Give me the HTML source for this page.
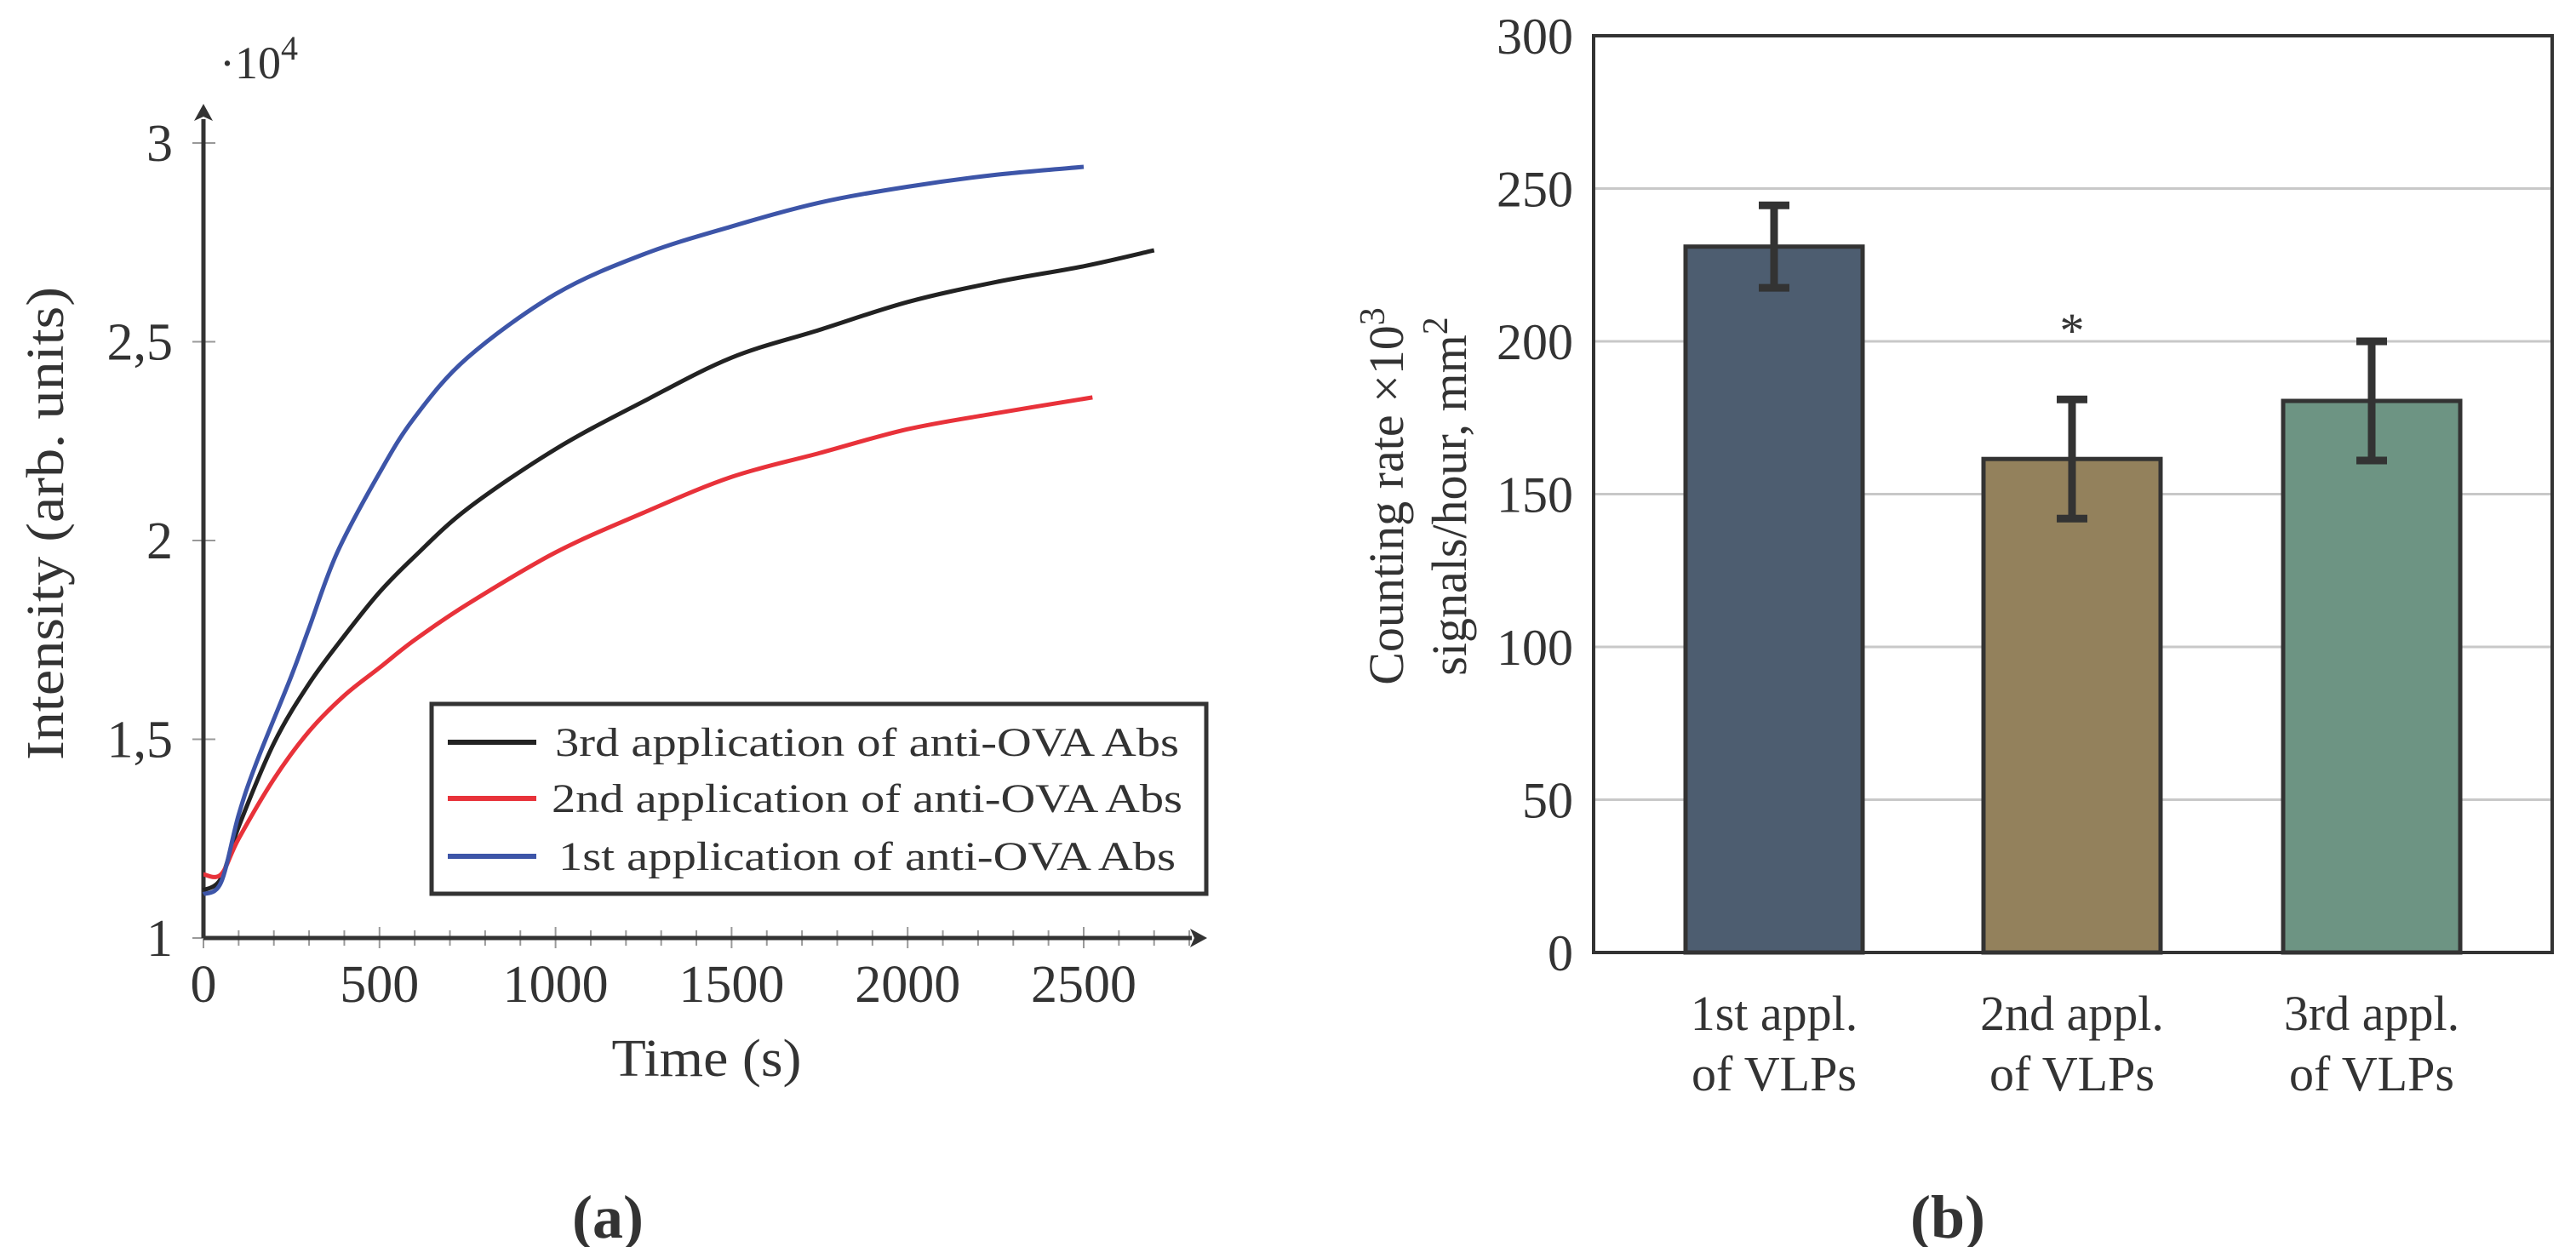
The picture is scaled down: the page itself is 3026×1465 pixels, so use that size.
<!DOCTYPE html>
<html><head><meta charset="utf-8"><style>
html,body{margin:0;padding:0;background:#fff}
svg{display:block}
text{font-family:"Liberation Serif",serif;fill:#333}
</style></head><body>
<svg id="fig" width="3026" height="1465" viewBox="0 0 3026 1465" xmlns="http://www.w3.org/2000/svg">
<g id="left"></g>
<g id="right"></g>
</svg>
<script>
// ---------- Left chart data ----------
const xTickValues=[0,500,1000,1500,2000,2500];
const yTickValues=[1,1.5,2,2.5,3];
const yTickLabels=["1","1,5","2","2,5","3"];
const blueT=[0,50,100,150,250,300,380,500,600,750,1000,1250,1500,1750,2000,2250,2500];
const blueV=[1.11,1.14,1.31,1.44,1.66,1.78,1.97,2.17,2.31,2.46,2.62,2.72,2.79,2.85,2.89,2.92,2.94];
const blackT=[0,50,100,200,300,400,500,600,750,1000,1250,1500,1750,2000,2250,2500,2700];
const blackV=[1.12,1.15,1.28,1.49,1.64,1.76,1.87,1.96,2.08,2.23,2.35,2.46,2.53,2.60,2.65,2.69,2.73];
const redT=[0,50,100,200,300,400,500,600,750,1000,1250,1500,1750,2000,2250,2525];
const redV=[1.16,1.16,1.25,1.40,1.52,1.61,1.68,1.75,1.84,1.97,2.07,2.16,2.22,2.28,2.32,2.36];
const legendLabels=["3rd application of anti-OVA Abs","2nd application of anti-OVA Abs","1st application of anti-OVA Abs"];
// ---------- Right chart data ----------
const categories=[["1st appl.","of VLPs"],["2nd appl.","of VLPs"],["3rd appl.","of VLPs"]];
const barValues=[231,161.5,180.5];
const barErrors=[13.5,19.5,19.5];
const rightTicks=[0,50,100,150,200,250,300];

const NS="http://www.w3.org/2000/svg";
function mk(parent,tag,attrs,txt){const e=document.createElementNS(NS,tag);for(const k in attrs)e.setAttribute(k,attrs[k]);if(txt!==undefined)e.textContent=txt;parent.appendChild(e);return e;}

// ===== Left =====
const L=document.getElementById('left');
const X0=239,Y0=1102;
const sx=t=>X0+t*(1034/2500);
const sy=v=>Y0-(v-1)*467;
for(let t=0;t<=2800;t+=100){const major=t%500===0;
 const tk=mk(L,'line',{x1:sx(t),x2:sx(t),y1:major?1089:1093,y2:major?1114:1111,stroke:'#999','stroke-width':2});
 
 }
yTickValues.forEach((v,i)=>{
 const tk=mk(L,'line',{x1:226,x2:253,y1:sy(v),y2:sy(v),stroke:'#999','stroke-width':2});
 
 
 const lb=mk(L,'text',{x:203,y:sy(v)+21,'text-anchor':'end','font-size':62},yTickLabels[i]);
 
 });
xTickValues.forEach(t=>{
 const lb=mk(L,'text',{x:sx(t),y:1177,'text-anchor':'middle','font-size':62},String(t));
 
 });
const ax=mk(L,'path',{d:`M${X0} ${Y0} H1400 M${X0} ${Y0} V140`,stroke:'#333','stroke-width':5,fill:'none'});


const arx=mk(L,'path',{d:'M1418 1102 L1398 1091 L1403 1102 L1398 1113 Z',fill:'#333'});


const ary=mk(L,'path',{d:'M239 122 L228 142 L239 137 L250 142 Z',fill:'#333'});


function smooth(ts,vs){const p=ts.map((t,i)=>[sx(t),sy(vs[i])]);let d=`M${p[0][0]} ${p[0][1]}`;
 for(let i=0;i<p.length-1;i++){const a=p[Math.max(0,i-1)],b=p[i],c=p[i+1],e=p[Math.min(p.length-1,i+2)];
  d+=` C${b[0]+(c[0]-a[0])/6} ${b[1]+(c[1]-a[1])/6} ${c[0]-(e[0]-b[0])/6} ${c[1]-(e[1]-b[1])/6} ${c[0]} ${c[1]}`;}return d;}
const cb=mk(L,'path',{d:smooth(blackT,blackV),stroke:'#222','stroke-width':5,fill:'none'});


const cr=mk(L,'path',{d:smooth(redT,redV),stroke:'#e8323a','stroke-width':5,fill:'none'});


const cbl=mk(L,'path',{d:smooth(blueT,blueV),stroke:'#3d55a8','stroke-width':5,fill:'none'});


const lg=mk(L,'g',{});


mk(lg,'rect',{x:507,y:827,width:910,height:223,fill:'#fff',stroke:'#333','stroke-width':5});
const lcol=['#222','#e8323a','#3d55a8'];const ly=[872,938,1006];const lx=[652,648,656];const lw=[733,741,725];
legendLabels.forEach((s,i)=>{
 const e=mk(lg,'g',{});
 
 
 mk(e,'line',{x1:526,x2:630,y1:ly[i],y2:ly[i],stroke:lcol[i],'stroke-width':6});
 mk(e,'text',{x:lx[i],y:ly[i]+16,'font-size':48,textLength:lw[i],lengthAdjust:'spacingAndGlyphs'},s);});
const xt=mk(L,'text',{x:830,y:1264,'text-anchor':'middle','font-size':62,textLength:223,lengthAdjust:'spacingAndGlyphs'},'Time (s)');


const yt=mk(L,'text',{x:0,y:0,'text-anchor':'middle','font-size':62,textLength:556,lengthAdjust:'spacingAndGlyphs',transform:'translate(74 615) rotate(-90)'},'Intensity (arb. units)');


const sc=mk(L,'text',{x:258,y:92,'font-size':54},'·10');


mk(sc,'tspan',{dy:-22,'font-size':40},'4');
const ca=mk(L,'text',{x:714,y:1454,'text-anchor':'middle','font-size':72,'font-weight':'bold'},'(a)');



// ===== Right =====
const R=document.getElementById('right');
const FL=1872,FR=2998,FT=42,FB=1119;
const ry=v=>FB-v*(FB-FT)/300;
const centers=[2084,2434,2786];const bw=208;
rightTicks.forEach(v=>{
 if(v>0&&v<300){const g=mk(R,'line',{x1:FL,x2:FR,y1:ry(v),y2:ry(v),stroke:'#c8c8c8','stroke-width':3});
 
 }
 const lb=mk(R,'text',{x:1848,y:ry(v)+21,'text-anchor':'end','font-size':60},String(v));
 
 });
const barCols=['#4d5d70','#93815c','#6d9483'];
barValues.forEach((v,i)=>{
 const b=mk(R,'rect',{x:centers[i]-bw/2,y:ry(v),width:bw,height:FB-ry(v),fill:barCols[i],stroke:'#333','stroke-width':5});
 
 
 const e=mk(R,'path',{d:`M${centers[i]} ${ry(v+barErrors[i])} V${ry(v-barErrors[i])} M${centers[i]-18} ${ry(v+barErrors[i])} H${centers[i]+18} M${centers[i]-18} ${ry(v-barErrors[i])} H${centers[i]+18}`,stroke:'#333','stroke-width':9,fill:'none'});
 
 
 categories[i].forEach((s,j)=>{
  const t=mk(R,'text',{x:centers[i],y:1210+j*71,'text-anchor':'middle','font-size':58},s);
  
  });});
const fr=mk(R,'rect',{x:FL,y:FT,width:FR-FL,height:FB-FT,fill:'none',stroke:'#333','stroke-width':4});


const st=mk(R,'text',{x:centers[1],y:408,'text-anchor':'middle','font-size':58},'*');


const t1=mk(R,'text',{x:0,y:0,'text-anchor':'middle','font-size':58,transform:'translate(1648 583) rotate(-90)'},'Counting rate ×10');


mk(t1,'tspan',{dy:-22,'font-size':42},'3');
const t2=mk(R,'text',{x:0,y:0,'text-anchor':'middle','font-size':58,transform:'translate(1722 583) rotate(-90)'},'signals/hour, mm');


mk(t2,'tspan',{dy:-22,'font-size':42},'2');
const cb2=mk(R,'text',{x:2288,y:1454,'text-anchor':'middle','font-size':72,'font-weight':'bold'},'(b)');


</script>
</body></html>
